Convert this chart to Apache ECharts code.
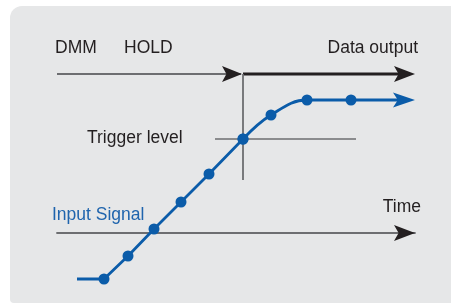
<!DOCTYPE html>
<html>
<head>
<meta charset="utf-8">
<title>DMM trigger hold</title>
<script src="https://cdn.jsdelivr.net/npm/echarts@6/dist/echarts.min.js"></script>
<style>
html,body{margin:0;padding:0;background:#fff;}
#main{width:451px;height:305px;}
</style>
</head>
<body>
<div id="main"></div>
<script>
// time / level of the input signal (origin = start of Time axis)
var signalTime  = [20, 47, 71, 97, 124, 152, 186, 214, 250, 294];
var signalLevel = [-46, -46, -23, 4, 31, 59, 94, 118, 133, 133];
var signalEnd = 350;          // where the signal arrow begins
var triggerTime = 186;        // signal crosses trigger level here
var triggerLevel = 94;
var triggerSpan = [158, 299]; // horizontal extent of trigger mark
var triggerDrop = 53;         // bottom of the vertical trigger mark
var holdLevel = 159;          // DMM hold / data output line
var timeEnd = 358;

var blue = '#0b5ca9';
var gray = '#6d6e71';
var ink = '#231f20';
var font = '"Liberation Sans", Arial, Helvetica, sans-serif';

var straightPart = [], curvedPart = [];
for (var i = 0; i < signalTime.length; i++) {
    var p = {value: [signalTime[i], signalLevel[i]]};
    if (i == 0) p.symbol = 'none';
    if (signalTime[i] <= triggerTime) straightPart.push(p);
    if (signalTime[i] >= triggerTime) curvedPart.push({value: [signalTime[i], signalLevel[i]]});
}
curvedPart.push({value: [signalEnd, signalLevel[signalLevel.length - 1]], symbol: 'none'});

// arrow heads: tip position, length, height, colour
var arrowHeads = [
    [timeEnd, 0, 21, 16, ink],
    [triggerTime - 1, holdLevel, 20, 16, ink],
    [timeEnd, holdLevel, 21, 16, ink],
    [timeEnd, signalLevel[signalLevel.length - 1], 22, 15, blue]
];

function drawArrow(params, api) {
    var tip = api.coord([api.value(0), api.value(1)]);
    var L = api.value(2), H = api.value(3);
    return {
        type: 'polygon',
        shape: {points: [
            tip,
            [tip[0] - L, tip[1] - H / 2],
            [tip[0] - L + L * 0.22, tip[1]],
            [tip[0] - L, tip[1] + H / 2]
        ]},
        style: {fill: arrowHeads[params.dataIndex][4]},
        z2: 10
    };
}

function txt(x, y, s, color, align) {
    return {
        type: 'text', z: 100,
        style: {x: x, y: y, text: s, fill: color || ink, font: '17.5px ' + font,
            align: align || 'left', verticalAlign: 'middle'}
    };
}

var myChart = echarts.init(document.getElementById('main'));

var option = {
    animation: false,
    grid: {left: 57, right: 36, top: 0, bottom: 0},
    xAxis: {
        type: 'value', min: 0, max: timeEnd,
        axisLine: {show: true, onZero: true, lineStyle: {color: gray, width: 1.8}},
        axisTick: {show: false}, axisLabel: {show: false}, splitLine: {show: false}
    },
    yAxis: {type: 'value', min: -72, max: 233, show: false},
    graphic: [
        {type: 'rect', z: -10, shape: {x: 10, y: 6, width: 460, height: 297, r: [12, 0, 0, 4]},
            style: {fill: '#e6e7e8'}},
        txt(55, 48, 'DMM'),
        txt(124, 48, 'HOLD'),
        txt(418, 48, 'Data output', ink, 'right'),
        txt(87, 138, 'Trigger level'),
        txt(52, 215, 'Input Signal', '#1f64ad'),
        txt(421, 207, 'Time', ink, 'right')
    ],
    series: [
        {
            name: 'hold', type: 'line', symbol: 'none', silent: true,
            data: [[0, holdLevel], [triggerTime - 2, holdLevel]],
            lineStyle: {color: gray, width: 1.8}
        },
        {
            name: 'output', type: 'line', symbol: 'none', silent: true,
            data: [[triggerTime, holdLevel], [timeEnd - 10, holdLevel]],
            lineStyle: {color: ink, width: 2.8}
        },
        {
            name: 'trigger time', type: 'line', symbol: 'none', silent: true,
            data: [[triggerTime, holdLevel], [triggerTime, triggerDrop]],
            lineStyle: {color: gray, width: 1.8}
        },
        {
            name: 'trigger level', type: 'line', symbol: 'none', silent: true,
            data: [[triggerSpan[0], triggerLevel], [triggerSpan[1], triggerLevel]],
            lineStyle: {color: gray, width: 1.5}
        },
        {
            name: 'signal', type: 'line', symbol: 'circle', symbolSize: 11, silent: true,
            data: straightPart, z: 5,
            itemStyle: {color: blue}, lineStyle: {color: blue, width: 2.8}
        },
        {
            name: 'signal2', type: 'line', symbol: 'circle', symbolSize: 11, silent: true,
            smooth: 0.4, data: curvedPart, z: 5,
            itemStyle: {color: blue}, lineStyle: {color: blue, width: 2.8}
        },
        {
            name: 'arrows', type: 'custom', silent: true, clip: false, z: 6,
            data: arrowHeads.map(function(a){ return [a[0], a[1], a[2], a[3]]; }),
            renderItem: drawArrow
        }
    ]
};

myChart.setOption(option);
</script>
</body>
</html>
